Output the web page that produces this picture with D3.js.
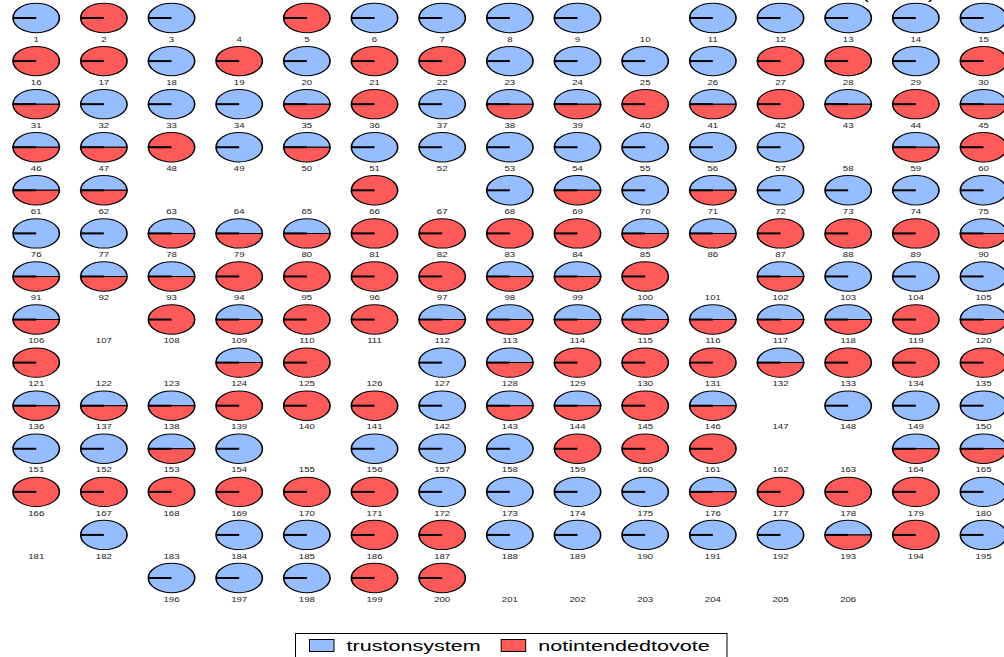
<!DOCTYPE html>
<html>
<head>
<meta charset="utf-8">
<script src="https://cdn.jsdelivr.net/npm/d3@7/dist/d3.min.js"></script>
<style>
  html, body { margin: 0; padding: 0; background: #fff; overflow: hidden; }
  svg { display: block; }
  text { font-family: "Liberation Sans", Arial, Helvetica, sans-serif; }
</style>
</head>
<body>
<svg id="chart" width="1004" height="657"></svg>
<script>
// Two yes/no answers per respondent (1 = yes), 206 respondents, 15 per row.
const trustOnSystem = [
  1,0,1,0,0,1,1,1,1,0,1,1,1,1,1,
  0,0,1,0,1,0,0,1,1,1,1,0,0,1,0,
  1,1,1,1,1,0,1,1,1,0,1,0,1,0,1,
  1,1,0,1,1,1,1,1,1,1,1,1,0,1,0,
  1,1,0,0,0,0,0,1,1,1,1,1,1,1,1,
  1,1,1,1,1,0,0,0,0,1,1,0,0,0,1,
  1,1,1,0,0,0,0,1,1,0,0,1,1,1,1,
  1,0,0,1,0,0,1,1,1,1,1,1,1,0,1,
  0,0,0,1,0,0,1,1,0,0,0,1,0,0,0,
  1,1,1,0,0,0,1,1,1,0,1,0,1,1,1,
  1,1,1,1,0,1,1,1,0,0,0,0,0,1,1,
  0,0,0,0,0,0,1,1,1,1,1,0,0,0,1,
  0,1,0,1,1,0,0,1,1,1,1,1,1,0,1,
  1,1,1,0,0,0,0,0,0,0,0
];
const notIntendedToVote = [
  0,1,0,0,1,0,0,0,0,0,0,0,0,0,0,
  1,1,0,1,0,1,1,0,0,0,0,1,1,0,1,
  1,0,0,0,1,1,0,1,1,1,1,1,1,1,1,
  1,1,1,0,1,0,0,0,0,0,0,0,0,1,1,
  1,1,0,0,0,1,0,0,1,0,1,0,0,0,0,
  0,0,1,1,1,1,1,1,1,1,1,1,1,1,1,
  1,1,1,1,1,1,1,1,1,1,0,1,0,0,0,
  1,0,1,1,1,1,1,1,1,1,1,1,1,1,1,
  1,0,0,1,1,0,0,1,1,1,1,1,1,1,1,
  1,1,1,1,1,1,0,1,1,1,1,0,0,0,0,
  0,0,1,0,0,0,0,0,1,1,1,0,0,1,1,
  1,1,1,1,1,1,0,0,0,0,1,1,1,1,0,
  0,0,0,0,0,1,1,0,0,0,0,0,1,1,0,
  0,0,0,1,1,0,0,0,0,0,0
];
const seriesNames = ["trustonsystem", "notintendedtovote"];
const seriesColors = ["#96BDFF", "#FF5A5A"];
const cellLabels = trustOnSystem.map((_, i) => String(i + 1));

const perRow = 15;
const nCells = cellLabels.length;
const nRows = Math.ceil(nCells / perRow);

const svg = d3.select("#chart");

// grid scales: column index -> x, row index -> y
const x = d3.scaleLinear().domain([0, perRow - 1]).range([36.2, 983.5]);
const y = d3.scaleLinear().domain([0, nRows - 1]).range([18, 578]);
const color = d3.scaleOrdinal().domain(seriesNames).range(seriesColors);

const ry = 14.7;          // pie radius (vertical)
const stretch = 23.2 / ry; // horizontal stretch of each pie
const textStretch = 1.44;  // horizontal stretch of all text

const pie = d3.pie()
  .sort(null)
  .value(d => d.value)
  .startAngle(-Math.PI / 2)
  .endAngle(3 * Math.PI / 2);
const arc = d3.arc().innerRadius(0).outerRadius(ry);

const cells = cellLabels.map((label, i) => {
  const row = Math.floor(i / perRow);
  const inRow = Math.min(perRow, nCells - row * perRow);
  const col = (i % perRow) + (perRow - inRow) / 2;
  return {
    label, row, col,
    values: [
      { key: seriesNames[0], value: trustOnSystem[i] },
      { key: seriesNames[1], value: notIntendedToVote[i] }
    ]
  };
});

const g = svg.append("g");

const cell = g.selectAll("g.cell")
  .data(cells)
  .join("g")
  .attr("class", "cell")
  .attr("transform", d => `translate(${x(d.col)},${y(d.row)})`);

// pies (cells with no "yes" answers stay empty)
const pies = cell.filter(d => d3.sum(d.values, v => v.value) > 0)
  .append("g")
  .attr("transform", `scale(${stretch},1)`);

pies.selectAll("path.slice")
  .data(d => pie(d.values).filter(s => s.data.value > 0))
  .join("path")
  .attr("class", "slice")
  .attr("d", arc)
  .attr("fill", s => color(s.data.key))
  .attr("stroke", "#000")
  .attr("stroke-width", 1);

// radius at the start angle
pies.append("line")
  .attr("x1", 0).attr("y1", 0)
  .attr("x2", -ry).attr("y2", 0)
  .attr("stroke", "#000")
  .attr("stroke-width", 2);

// respondent numbers under each pie
cell.append("text")
  .attr("transform", `translate(0,23.7) scale(${textStretch},1)`)
  .attr("text-anchor", "middle")
  .attr("font-size", 6.7)
  .attr("fill", "#222")
  .text(d => d.label);

// title parentheses reaching into the top edge
svg.append("text")
  .attr("transform", `translate(865,-0.6) scale(${textStretch},1)`)
  .attr("text-anchor", "middle").attr("font-size", 16).attr("fill", "#000")
  .text("(");
svg.append("text")
  .attr("transform", `translate(931.7,-0.6) scale(${textStretch},1)`)
  .attr("text-anchor", "middle").attr("font-size", 16).attr("fill", "#000")
  .text(")");

// legend
const legend = svg.append("g");
legend.append("rect")
  .attr("x", 295.5).attr("y", 633.5)
  .attr("width", 431.5).attr("height", 40)
  .attr("fill", "#fff").attr("stroke", "#000").attr("stroke-width", 1);

const legendX = [309, 500.7];
const item = legend.selectAll("g.item")
  .data(seriesNames)
  .join("g")
  .attr("class", "item")
  .attr("transform", (d, i) => `translate(${legendX[i]},0)`);
item.append("rect")
  .attr("x", 0.5).attr("y", 639.5)
  .attr("width", 24.5).attr("height", 12)
  .attr("fill", d => color(d))
  .attr("stroke", "#000").attr("stroke-width", 1);
item.append("text")
  .attr("transform", `translate(37.5,650.6) scale(${textStretch},1)`)
  .attr("font-size", 15)
  .attr("fill", "#000")
  .text(d => d);
</script>
</body>
</html>
